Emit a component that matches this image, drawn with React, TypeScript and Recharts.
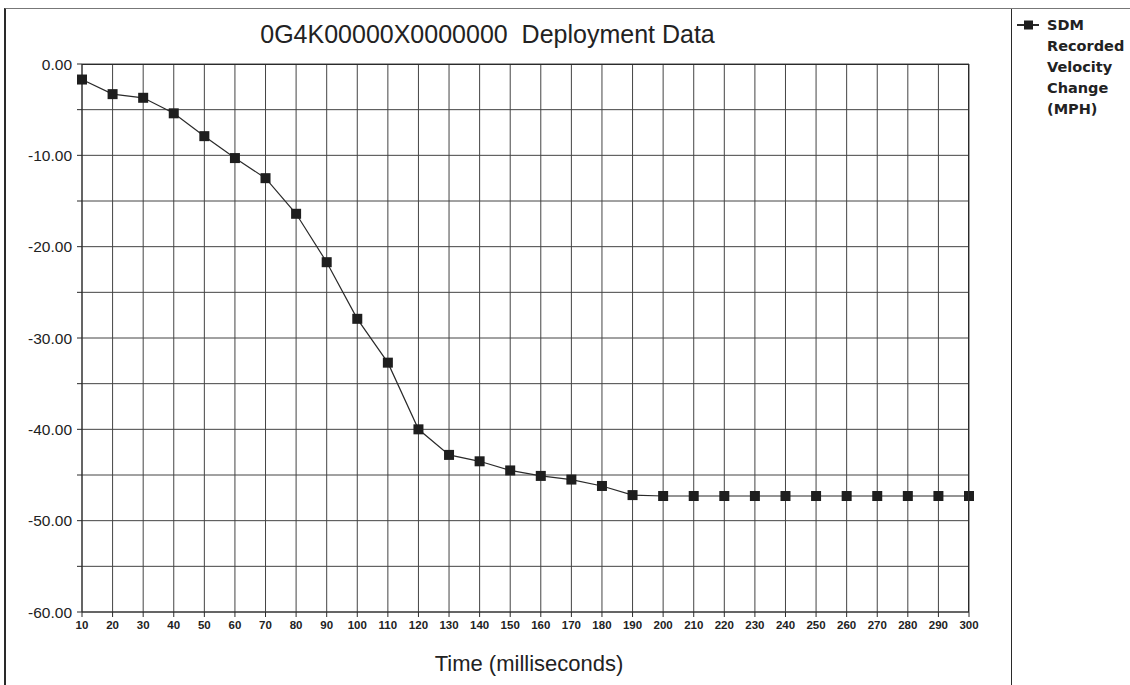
import { LineChart, Line, XAxis, YAxis, CartesianGrid } from 'recharts'

const times = [10, 20, 30, 40, 50, 60, 70, 80, 90, 100, 110, 120, 130, 140, 150, 160, 170, 180, 190, 200, 210, 220, 230, 240, 250, 260, 270, 280, 290, 300]
const velocity = [-1.7, -3.3, -3.7, -5.4, -7.9, -10.3, -12.5, -16.4, -21.7, -27.9, -32.7, -40.0, -42.8, -43.5, -44.5, -45.1, -45.5, -46.2, -47.2, -47.3, -47.3, -47.3, -47.3, -47.3, -47.3, -47.3, -47.3, -47.3, -47.3, -47.3]
const yTicks = [0, -5, -10, -15, -20, -25, -30, -35, -40, -45, -50, -55, -60]
const legendLines = ['SDM', 'Recorded', 'Velocity', 'Change', '(MPH)']

const data = times.map((t, i) => ({ t, v: velocity[i] }))

const ink = '#2a2a2a'
const font = '"Liberation Sans", Arial, sans-serif'

const Square = ({ cx, cy }: any) => {
  if (cx == null || cy == null) return null
  return <rect x={cx - 5} y={cy - 5} width={10} height={10} fill="#1e1e1e" />
}

export default function App() {
  return (
    <div style={{ position: 'absolute', left: 0, top: 0, width: 1130, height: 685, background: '#fff', overflow: 'hidden', fontFamily: font }}>
      {/* frame */}
      <div style={{ position: 'absolute', left: 4, top: 8, width: 1005, height: 700, borderLeft: `2px solid ${ink}`, borderTop: `1px solid #777`, borderRight: `1px solid ${ink}` }} />
      <div style={{ position: 'absolute', left: 1010, top: 8, width: 120, height: 0, borderTop: '1px solid #777' }} />

      <div style={{ position: 'absolute', left: 0, top: 20, width: 975, textAlign: 'center', fontSize: 25, color: '#222', whiteSpace: 'nowrap' }}>
        0G4K00000X0000000&nbsp;&nbsp;Deployment Data
      </div>

      <LineChart width={1130} height={685} data={data} margin={{ top: 64, right: 161, bottom: 43, left: 0 }} style={{ position: 'absolute', left: 0, top: 0 }}>
        <CartesianGrid stroke="#444" strokeWidth={1} horizontalValues={yTicks} verticalValues={times} />
        <XAxis
          dataKey="t"
          type="number"
          domain={[10, 300]}
          ticks={times}
          interval={0}
          height={30}
          axisLine={{ stroke: ink }}
          tickLine={{ stroke: ink }}
          tickSize={5}
          tickMargin={4}
          tick={{ fontSize: 11.5, fontWeight: 'bold', fill: '#222', fontFamily: font }}
        />
        <YAxis
          type="number"
          domain={[-60, 0]}
          ticks={yTicks}
          interval={0}
          width={82}
          axisLine={{ stroke: ink }}
          tickLine={{ stroke: ink }}
          tickSize={5}
          tickMargin={5}
          tickFormatter={(v: number) => (v % 10 === 0 ? v.toFixed(2) : '')}
          tick={{ fontSize: 15.5, fill: '#222', fontFamily: font }}
        />
        <Line dataKey="v" stroke={ink} strokeWidth={1.2} dot={<Square />} isAnimationActive={false} />
      </LineChart>

      {/* right and top border of plot */}
      <div style={{ position: 'absolute', left: 968, top: 64, width: 0, height: 548, borderLeft: `1px solid ${ink}` }} />
      <div style={{ position: 'absolute', left: 82, top: 64, width: 886, height: 0, borderTop: `1px solid ${ink}` }} />

      <div style={{ position: 'absolute', left: 0, top: 651, width: 1058, textAlign: 'center', fontSize: 22, color: '#222' }}>
        Time (milliseconds)
      </div>

      {/* legend */}
      <svg style={{ position: 'absolute', left: 1017, top: 19 }} width={24} height={12}>
        <line x1={0} y1={6} x2={22} y2={6} stroke={ink} strokeWidth={2} />
        <rect x={7} y={1.5} width={9} height={9} fill="#1e1e1e" />
      </svg>
      <div style={{ position: 'absolute', left: 1047, top: 15, fontSize: 14.5, fontWeight: 'bold', lineHeight: '21px', color: '#222', fontFamily: '"DejaVu Sans", sans-serif' }}>
        {legendLines.map((l) => (
          <div key={l}>{l}</div>
        ))}
      </div>
    </div>
  )
}
